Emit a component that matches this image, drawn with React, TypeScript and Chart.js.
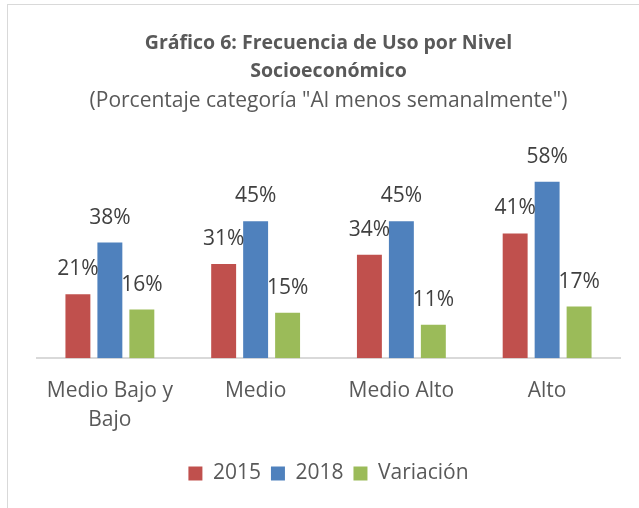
import React, { useEffect, useRef } from "react";
import { Chart, registerables } from "chart.js";

Chart.register(...registerables);

const categories: (string | string[])[] = [["Medio Bajo y", "Bajo"], "Medio", "Medio Alto", "Alto"];
const values2015 = [21, 31, 34, 41];
const values2018 = [38, 45, 45, 58];
const valuesVariacion = [16, 15, 11, 17];
const seriesNames = ["2015", "2018", "Variación"];
const titleLines = ["Gráfico 6: Frecuencia de Uso por Nivel", "Socioeconómico"];
const subtitleText = '(Porcentaje categoría "Al menos semanalmente")';

const FONT = "'Open Sans', 'Noto Sans', sans-serif";

const dataLabelPlugin = {
  id: "dataLabels",
  afterDatasetsDraw(chart: any) {
    const ctx = chart.ctx;
    ctx.save();
    ctx.font = `21px ${FONT}`;
    ctx.fillStyle = "#404040";
    ctx.textAlign = "center";
    ctx.textBaseline = "middle";
    chart.data.datasets.forEach((ds: any, i: number) => {
      const meta = chart.getDatasetMeta(i);
      meta.data.forEach((el: any, j: number) => {
        ctx.fillText(ds.data[j] + "%", el.x, el.y - 25);
      });
    });
    ctx.restore();
  },
};

export default function App() {
  const ref = useRef<HTMLCanvasElement>(null);
  useEffect(() => {
    if (!ref.current) return;
    const chart = new Chart(ref.current, {
      type: "bar",
      data: {
        labels: categories,
        datasets: [
          { label: seriesNames[0], data: values2015, backgroundColor: "#C0504D" },
          { label: seriesNames[1], data: values2018, backgroundColor: "#4F81BD" },
          { label: seriesNames[2], data: valuesVariacion, backgroundColor: "#9BBB59" },
        ],
      },
      options: {
        animation: false,
        responsive: false,
        maintainAspectRatio: false,
        layout: { padding: { left: 37, right: 19, top: 0, bottom: 14 } },
        datasets: { bar: { categoryPercentage: 0.658, barPercentage: 0.78 } },
        scales: {
          x: {
            grid: { display: false, drawTicks: false },
            border: { display: true, color: "#D9D9D9", width: 2 },
            ticks: { font: { family: FONT, size: 21, lineHeight: 1.35 }, color: "#595959", padding: 19, maxRotation: 0 },
          },
          y: { display: false, min: 0, max: 70 },
        },
        plugins: {
          title: {
            display: true,
            text: titleLines,
            color: "#595959",
            font: { family: FONT, size: 19.5, weight: "bold", lineHeight: 1.42 },
            padding: { top: 30, bottom: 1.5 },
          },
          subtitle: {
            display: true,
            text: subtitleText,
            color: "#595959",
            font: { family: FONT, size: 21, lineHeight: 1.3 },
            padding: { top: 0, bottom: 31 },
          },
          legend: {
            position: "bottom",
            labels: {
              boxWidth: 14,
              boxHeight: 14,
              padding: 10,
              color: "#595959",
              font: { family: FONT, size: 21 },
            },
          },
          tooltip: { enabled: false },
        },
      },
      plugins: [dataLabelPlugin],
    } as any);
    return () => chart.destroy();
  }, []);
  return (
    <div style={{ position: "absolute", left: 0, top: 0, width: 639, height: 508, background: "#fff", overflow: "hidden" }}>
      <div style={{ position: "absolute", left: 7, top: 4, width: 700, height: 600, borderTop: "1px solid #D9D9D9", borderLeft: "1px solid #D9D9D9" }} />
      <canvas ref={ref} width={639} height={508} style={{ position: "absolute", left: 0, top: 0 }} />
    </div>
  );
}
